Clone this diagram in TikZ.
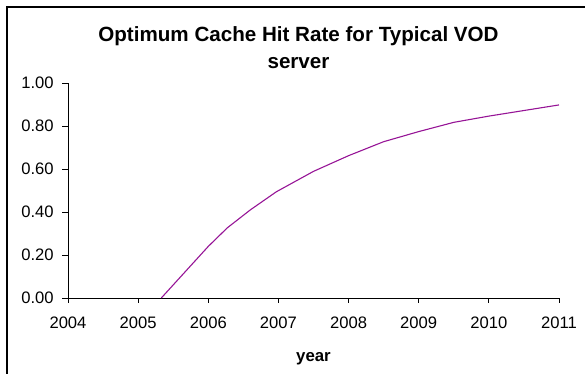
\documentclass[tikz,border=0pt]{standalone}
\usepackage{fontspec}
\setmainfont{Liberation Sans}
\usepackage{tikz}
\usetikzlibrary{positioning, calc}
\definecolor{hitpurple}{RGB}{150,20,150}
\tikzset{
    ticklabel/.style = {inner sep=0pt, font=\fontsize{16.6}{20}\selectfont},
    axislabel/.style = {inner sep=0pt, anchor=base, font=\fontsize{16.8}{20}\selectfont\bfseries},
    titleline/.style = {inner sep=0pt, anchor=base, font=\fontsize{20.6}{25}\selectfont\bfseries},
    chartaxis/.style = {line width=0.8pt, black},
    hitcurve/.style = {hitpurple, line width=1.1pt, line join=round},
}

\begin{document}
\begin{tikzpicture}[x=1pt,y=1pt]
    \useasboundingbox (0,0) rectangle (585,373);
    % chart frame, cut by the page on the right and bottom
    \draw[line width=1.3pt] (7,-20) rectangle (620,366);
    \node (title) [titleline] at (298.5,331.5) {Optimum Cache Hit Rate for Typical VOD};
    \node (title2) [titleline] at (298.5,304.7) {server};
    \begin{scope}[shift={(68,75)}, x=70.14pt, y=215pt]
        \coordinate (origin) at (0,0);
        \draw[chartaxis] (0,1) -- (origin) -- (7,0);
        % value axis
        \foreach \v [count=\i] in {0.00,0.20,0.40,0.60,0.80,1.00}
            \draw[chartaxis] (0,\v) -- ++(-6pt,0) node[ticklabel, left=8pt] (ylab\i) {\v};
        % year axis
        \foreach \yr [count=\i from 0] in {2004,...,2011}
            \draw[chartaxis] (\i,0) -- ++(0,-5pt) node[ticklabel, below=14pt] (xlab\i) {\yr};
        \draw[hitcurve] (1.33,0) -- (2,0.24) -- (2.27,0.326) -- (2.6,0.41)
            -- (2.97,0.494) -- (3.5,0.589) -- (4,0.662) -- (4.5,0.727)
            -- (5,0.774) -- (5.5,0.817) -- (6,0.846) -- (7,0.898);
    \end{scope}
    \node (xtitle) [axislabel] at (313.5,11.3) {year};
\end{tikzpicture}
\end{document}
